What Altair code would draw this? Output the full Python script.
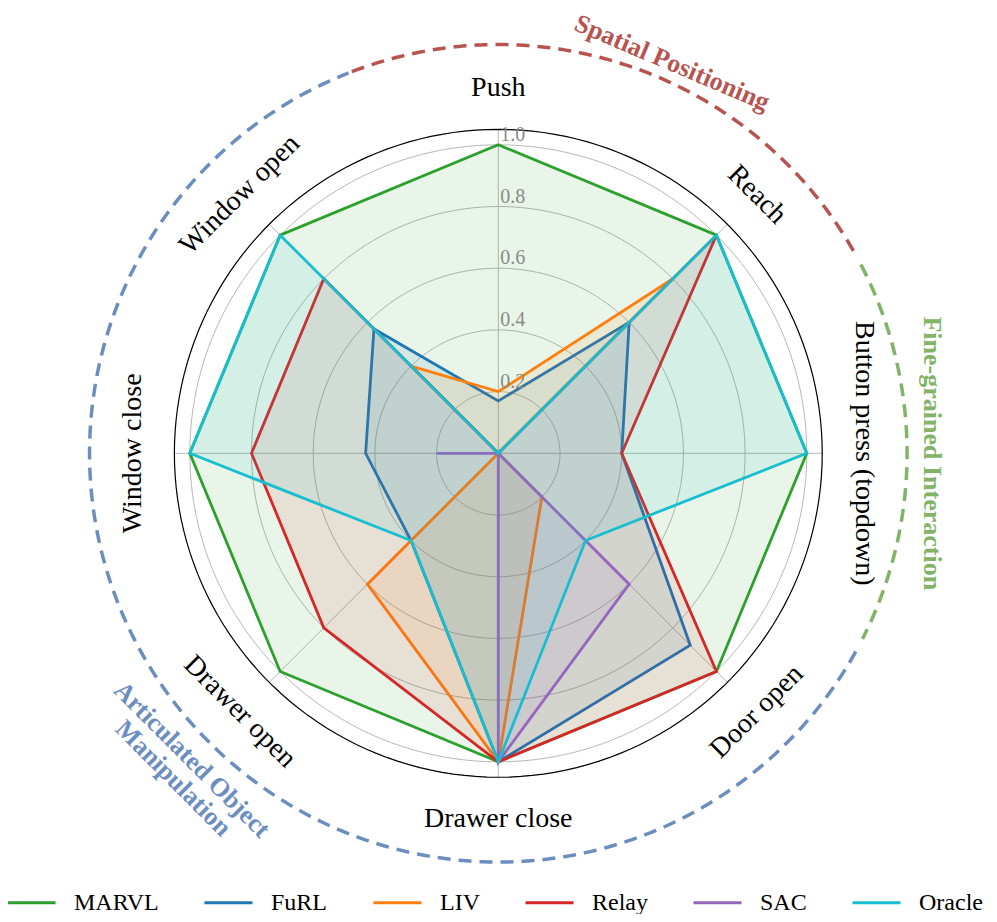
import math
import altair as alt
import pandas as pd

# ---------------- data ----------------
categories = ["Push", "Reach", "Button press (topdown)", "Door open",
              "Drawer close", "Drawer open", "Window close", "Window open"]
series_names = ["MARVL", "FuRL", "LIV", "Relay", "SAC", "Oracle"]
marvl  = [1.00, 1.00, 1.00, 1.00, 1.00, 1.00, 1.00, 1.00]
furl   = [0.17, 0.60, 0.40, 0.88, 1.00, 0.40, 0.43, 0.57]
liv    = [0.20, 0.80, 0.00, 0.20, 1.00, 0.60, 0.00, 0.40]
relay  = [0.00, 1.00, 0.40, 1.00, 1.00, 0.80, 0.80, 0.80]
sac    = [0.00, 0.00, 0.00, 0.60, 1.00, 0.00, 0.20, 0.00]
oracle = [0.00, 1.00, 1.00, 0.40, 1.00, 0.40, 1.00, 1.00]
series_values = [marvl, furl, liv, relay, sac, oracle]
series_colors = ["#2ca02c", "#1f77b4", "#ff7f0e", "#d62728", "#9467bd", "#17becf"]

tick_values = [0.2, 0.4, 0.6, 0.8, 1.0]
tick_labels = ["0.2", "0.4", "0.6", "0.8", "1.0"]

group_lines = [["Spatial Positioning"], ["Fine-grained Interaction"],
               ["Articulated Object", "Manipulation"]]
group_colors = ["#b85450", "#82b366", "#6c8ebf"]
group_start = [-21.0, 62.5, 119.0]     # degrees clockwise from the top
group_end = [61.0, 117.0, 338.5]
group_label_at = [24.0, 90.0, 225.0]
group_label_rot = [23.0, 90.0, 45.0]

# ---------------- layout ----------------
W, H = 981, 906
CX, CY = 490.3, 445.3     # centre of the radar in chart pixels
S = 308.5                 # pixels per unit of value
R_SPINE = 1.05
R_LABEL = 1.185
R_ARC = 1.325
R_GROUP = [1.385, 1.405, 1.405]
GROUP_LINE = 0.085
SERIF = "Liberation Serif"

xs = alt.Scale(domain=[-CX / S, (W - CX) / S], nice=False, zero=False)
ys = alt.Scale(domain=[-(H - CY) / S, CY / S], nice=False, zero=False)
N = len(categories)
STEP = 360.0 / N


def polar(r, deg):
    a = math.radians(deg)
    return r * math.sin(a), r * math.cos(a)


def tangent_rot(deg):
    t = ((deg + 180) % 360) - 180
    if t > 90:
        t -= 180
    if t < -90:
        t += 180
    return t % 360


# grid circles
grid_rows = []
for r in tick_values:
    for a in range(0, 361, 2):
        x, y = polar(r, a)
        grid_rows.append({"r": r, "a": a, "x": x, "y": y})
grid_df = pd.DataFrame(grid_rows)

spine_rows = []
for a in range(0, 361, 2):
    x, y = polar(R_SPINE, a)
    spine_rows.append({"a": a, "x": x, "y": y})
spine_df = pd.DataFrame(spine_rows)

spoke_rows = []
for i in range(N):
    for k, r in enumerate([0.0, R_SPINE]):
        x, y = polar(r, i * STEP)
        spoke_rows.append({"i": i, "k": k, "x": x, "y": y})
spoke_df = pd.DataFrame(spoke_rows)

# series polygons
poly_rows = []
for name, vals in zip(series_names, series_values):
    for i, (cat, v) in enumerate(zip(categories, vals)):
        poly_rows.append({"series": name, "idx": i, "category": cat,
                          "value": v, "theta": i * STEP})
poly_df = pd.DataFrame(poly_rows)

# tick labels
tick_df = pd.DataFrame({"r": tick_values, "label": tick_labels})

# category labels
cat_rows = []
for i, cat in enumerate(categories):
    x, y = polar(R_LABEL, i * STEP)
    cat_rows.append({"label": cat, "x": x, "y": y, "rot": tangent_rot(i * STEP)})
cat_df = pd.DataFrame(cat_rows)

# group arcs
arc_rows = []
for g, (a0, a1, col) in enumerate(zip(group_start, group_end, group_colors)):
    n = int((a1 - a0) / 0.5)
    for k in range(n + 1):
        a = a0 + (a1 - a0) * k / n
        x, y = polar(R_ARC, a)
        arc_rows.append({"g": g, "k": k, "x": x, "y": y, "col": col})
arc_df = pd.DataFrame(arc_rows)

# group labels
glab_rows = []
for g, (lines, col, at, rot) in enumerate(zip(group_lines, group_colors,
                                              group_label_at, group_label_rot)):
    for j, line in enumerate(lines):
        x, y = polar(R_GROUP[g] + j * GROUP_LINE, at)
        glab_rows.append({"label": line, "x": x, "y": y, "rot": rot, "col": col})
glab_df = pd.DataFrame(glab_rows)

X = lambda: alt.X("x:Q", scale=xs, axis=None)
Y = lambda: alt.Y("y:Q", scale=ys, axis=None)

grid = alt.Chart(grid_df).mark_line(color="#b8b8b8", strokeWidth=1).encode(
    x=X(), y=Y(), detail="r:N", order="a:Q")

spokes = alt.Chart(spoke_df).mark_line(color="#b8b8b8", strokeWidth=1).encode(
    x=X(), y=Y(), detail="i:N", order="k:Q")

spine = alt.Chart(spine_df).mark_line(color="black", strokeWidth=1.2).encode(
    x=X(), y=Y(), order="a:Q")

polys = alt.Chart(poly_df).transform_calculate(
    x="datum.value * sin(datum.theta * PI / 180)",
    y="datum.value * cos(datum.theta * PI / 180)",
).mark_line(interpolate="linear-closed", strokeWidth=2.8, fillOpacity=0.1).encode(
    x=X(), y=Y(),
    color=alt.Color("series:N", scale=alt.Scale(domain=series_names, range=series_colors),
                    legend=alt.Legend(orient="none", legendX=-2, legendY=869,
                                      direction="horizontal", columns=6,
                                      symbolType="stroke", symbolSize=2304,
                                      symbolStrokeWidth=3, labelFont=SERIF,
                                      labelFontSize=24, labelOffset=17,
                                      columnPadding=39, title=None,
                                      labelColor="black", padding=0, labelLimit=0)),
    fill=alt.Fill("series:N", scale=alt.Scale(domain=series_names, range=series_colors),
                  legend=None),
    order=alt.Order("idx:Q"),
)

ticks = alt.Chart(tick_df).transform_calculate(x="0").mark_text(
    align="left", baseline="alphabetic", dx=2, dy=-4, font=SERIF, fontSize=20,
    color="#8a8a8a").encode(x=X(), y=alt.Y("r:Q", scale=ys, axis=None), text="label:N")

cat_text = alt.Chart(cat_df).mark_text(
    align="center", baseline="middle", font=SERIF, fontSize=28, color="black").encode(
    x=X(), y=Y(), text="label:N", angle=alt.Angle("rot:Q", scale=None))

arcs = alt.Chart(arc_df).mark_line(strokeWidth=3.5, strokeDash=[13, 8]).encode(
    x=X(), y=Y(), detail="g:N", order="k:Q", color=alt.Color("col:N", scale=None))

glabels = alt.Chart(glab_df).mark_text(
    align="center", baseline="middle", font=SERIF, fontSize=26, fontWeight="bold").encode(
    x=X(), y=Y(), text="label:N", angle=alt.Angle("rot:Q", scale=None),
    color=alt.Color("col:N", scale=None))

chart = alt.layer(grid, spokes, spine, polys, ticks, cat_text, arcs, glabels).properties(
    width=W, height=H, padding=0, autosize=alt.AutoSizeParams(type="none"),
    background="white",
).configure_view(stroke=None)

chart.save("out.html", embed_options={"renderer": "svg", "actions": False})
